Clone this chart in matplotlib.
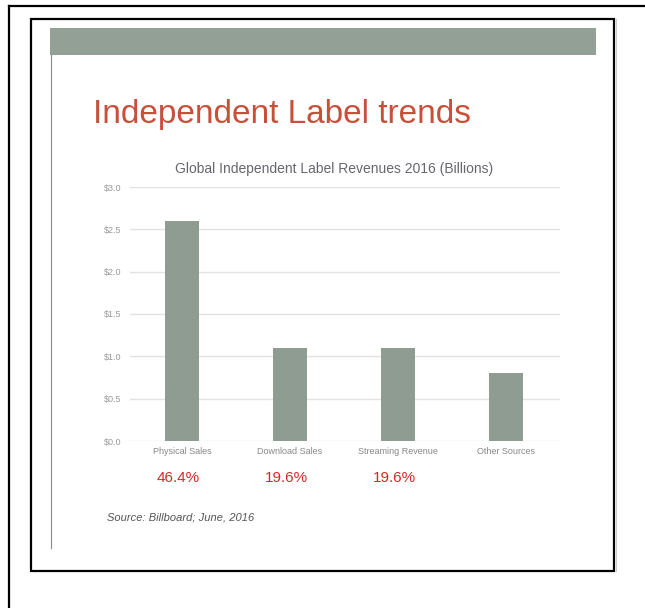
import matplotlib.pyplot as plt
from matplotlib.patches import Rectangle
from matplotlib.lines import Line2D
from matplotlib.transforms import blended_transform_factory

# data
categories = ['Physical Sales', 'Download Sales', 'Streaming Revenue', 'Other Sources']
revenues = [2.6, 1.1, 1.1, 0.8]
shares = ['46.4%', '19.6%', '19.6%']
yticks = [0.0, 0.5, 1.0, 1.5, 2.0, 2.5, 3.0]
ytick_labels = ['$%.1f' % v for v in yticks]

W, H = 645, 608
plt.rcParams['font.family'] = ['Liberation Sans', 'DejaVu Sans']

fig = plt.figure(figsize=(W / 100, H / 100), dpi=100)


def fx(x):
    return x / W


def fy(y):
    return 1 - y / H


# outer frame (runs off the right and bottom edges)
fig.add_artist(Line2D([fx(9), fx(9)], [fy(6), 0], color='black', lw=1.6,
                      transform=fig.transFigure))
fig.add_artist(Line2D([fx(9), 1], [fy(6), fy(6)], color='black', lw=1.6,
                      transform=fig.transFigure))

# inner frame
fig.add_artist(Rectangle((fx(31), fy(571)), fx(614) - fx(31), fy(19) - fy(571),
                         fill=False, ec='black', lw=1.6, transform=fig.transFigure))
fig.add_artist(Line2D([fx(616), fx(616)], [fy(571), fy(19)], color='#cccccc', lw=0.8,
                      transform=fig.transFigure))

# slide banner and left rule
fig.add_artist(Rectangle((fx(50), fy(55)), fx(596) - fx(50), fy(28) - fy(55),
                         color='#93a096', lw=0, transform=fig.transFigure))
fig.add_artist(Line2D([fx(51), fx(51)], [fy(548), fy(55)], color='#8a8a8a', lw=0.8,
                      transform=fig.transFigure))

fig.text(fx(93), fy(123), 'Independent Label trends', fontsize=24,
         color='#c8503a', ha='left', va='baseline')
fig.text(fx(334), fy(173), 'Global Independent Label Revenues 2016 (Billions)',
         fontsize=10, color='#666670', ha='center', va='baseline')

# chart
ax = fig.add_axes([fx(130), fy(441), fx(560) - fx(130), fy(187) - fy(441)])
x = list(range(len(categories)))
ax.bar(x, revenues, width=0.315, color='#8e9c92', zorder=2)
ax.set_xlim(-0.48, 3.5)
ax.set_ylim(0, 3.0)
ax.set_yticks(yticks)
ax.set_yticklabels(ytick_labels)
ax.set_xticks(x)
ax.set_xticklabels(categories)
ax.tick_params(axis='y', length=0, pad=6, labelsize=6.5, labelcolor='#999999')
ax.tick_params(axis='x', length=0, pad=4, labelsize=6.5, labelcolor='#888888')
ax.grid(axis='y', color='#e2e2e2', linewidth=1, zorder=0)
for s in ax.spines.values():
    s.set_visible(False)

# percentage labels under the first three categories
tr = blended_transform_factory(ax.transData, fig.transFigure)
for i, txt in enumerate(shares):
    ax.text(i - 0.03, fy(482), txt, transform=tr, fontsize=11, color='#d42a2a',
            ha='center', va='baseline')

fig.text(fx(107), fy(521), 'Source: Billboard; June, 2016', fontsize=8,
         style='italic', color='#555555', ha='left', va='baseline')

fig.savefig('out.png', dpi=100)
